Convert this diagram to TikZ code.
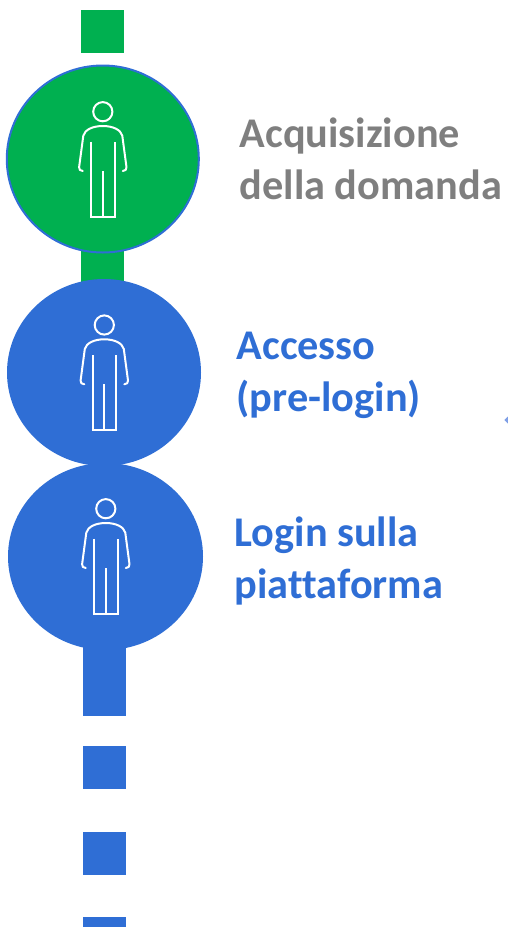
\documentclass[tikz,border=0pt]{standalone}
\usepackage{fontspec}
\setmainfont{Carlito}[Ligatures=NoCommon]
\usetikzlibrary{shapes.geometric}
\definecolor{pgreen}{HTML}{00B050}
\definecolor{pblue}{HTML}{2F6ED5}
\definecolor{pgray}{HTML}{7F7F7F}
\definecolor{ptip}{HTML}{7F9FE6}
\tikzset{
  x=1pt,y=-1pt,
  disc/.style={ellipse,inner sep=0pt,outer sep=0pt,minimum width=#1,minimum height=187pt},
  bar/.style={rectangle,inner sep=0pt,outer sep=0pt,anchor=north west,minimum width=43pt},
  label/.style={anchor=west,align=left,inner sep=0pt,font=\fontsize{42.3}{52}\selectfont\bfseries},
  figline/.style={draw=white,line width=2pt,line join=round,line cap=round,fill=none},
  person/.pic={
    \draw[figline] (0,0) circle (9.6);
    \draw[figline] (-20,59.3) .. controls (-22.5,59) and (-24,58) .. (-23.7,55.5)
      -- (-19.5,24) .. controls (-18,18) and (-10,14.3) .. (0,14.3)
      .. controls (10,14.3) and (18,18) .. (19.5,24)
      -- (23.7,55.5) .. controls (24,58) and (22.5,59) .. (20,59.3);
    \draw[figline,line cap=butt,line join=miter] (-11.7,30) -- (-11.7,105) -- (11.7,105) -- (11.7,30);
    \draw[figline,line cap=butt] (0,59.3) -- (0,105);
  }
}
\begin{document}
\begin{tikzpicture}
\useasboundingbox (0,0) rectangle (508,927);
% green stem
\node[bar,fill=pgreen,minimum height=43pt] (gtop) at (81.2,10) {};
\node[bar,fill=pgreen,minimum height=40pt] (gstem) at (81.2,245) {};
% blue stem
\node[bar,fill=pblue,minimum height=76pt] (bstem) at (83.2,640) {};
\node[bar,fill=pblue,minimum height=43pt] (bsq1) at (83.2,746) {};
\node[bar,fill=pblue,minimum height=43pt] (bsq2) at (83.2,831.5) {};
\node[bar,fill=pblue,minimum height=10pt] (bsq3) at (83.2,917) {};
% circles
\node[disc=192pt,fill=pgreen,draw=pblue,line width=2pt] (c1) at (102.8,159) {};
\node[disc=194pt,fill=pblue] (c2) at (104,372.5) {};
\node[disc=195pt,fill=pblue] (c3) at (105.5,556.5) {};
% persons
\pic at (102.8,111.7) {person};
\pic at (104.3,325) {person};
\pic at (105.8,508.7) {person};
% labels
\node[label,text=pgray] (t1) at (239.5,158.5) {Acquisizione\\della domanda};
\node[label,text=pblue] (t2) at (236.5,375.5) {Accesso\\(pre-login)};
\node[label,text=pblue] (t3) at (234.5,561) {Login sulla\\piattaforma};
% clipped arrow tip at the right edge
\fill[ptip] (504.3,420) -- (508,416.5) -- (508,423.5) -- cycle;
\end{tikzpicture}
\end{document}
